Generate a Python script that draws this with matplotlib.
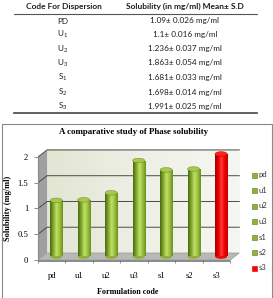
import numpy as np
import matplotlib as mpl
mpl.use('Agg')
import matplotlib.pyplot as plt
from matplotlib.patches import Polygon, Rectangle, Ellipse
from matplotlib.colors import LinearSegmentedColormap
from matplotlib.lines import Line2D

# table data
codes = ['PD', 'U$_1$', 'U$_2$', 'U$_3$', 'S$_1$', 'S$_2$', 'S$_3$']
means = [1.09, 1.1, 1.236, 1.863, 1.681, 1.698, 1.991]
sds = [0.026, 0.016, 0.037, 0.054, 0.033, 0.014, 0.025]

# chart data
labels = ['pd', 'u1', 'u2', 'u3', 's1', 's2', 's3']
colors = ['green', 'green', 'green', 'green', 'green', 'green', 'red']
yticks = [0, 0.5, 1, 1.5, 2]

W, H = 273, 298
plt.rcParams['mathtext.fontset'] = 'custom'
plt.rcParams['mathtext.rm'] = 'Lato'
plt.rcParams['mathtext.it'] = 'Lato'

fig = plt.figure(figsize=(W / 100, H / 100), dpi=100)
fig.patch.set_facecolor('white')

def fx(px):
    return px / W

def fy(py):
    return 1 - py / H

# ---- table ----
tfont = dict(family='Lato', color='#1e1e1e')
fig.text(fx(64), fy(6), 'Code For Dispersion', ha='center', va='center', fontsize=6.0, weight='bold', **tfont)
fig.text(fx(185), fy(6), 'Solubility (in mg/ml) Mean\u00b1 S.D', ha='center', va='center', fontsize=6.0, weight='bold', **tfont)
fig.add_artist(Line2D([fx(14), fx(257)], [fy(13.5), fy(13.5)], color='#555555', lw=0.8))
row_y = [21, 34.5, 49, 63, 77.5, 92, 106]
for c, m, s, ry in zip(codes, means, sds, row_y):
    fig.text(fx(63), fy(ry), c, ha='center', va='center', fontsize=5.9, **tfont)
    fig.text(fx(185), fy(ry), f'{m}\u00b1 {s} mg/ml', ha='center', va='center', fontsize=5.9, **tfont)
fig.add_artist(Line2D([fx(14), fx(257)], [fy(113), fy(113)], color='#444444', lw=1.2))

# chart frame
fig.add_artist(Rectangle((fx(2), fy(300)), fx(270), 176 / H, fill=False, ec='#888888', lw=0.8))

# ---- chart ----
ax = fig.add_axes([fx(38), fy(260), fx(206), 118.5 / H])
ax.patch.set_visible(False)
for sp in ['top', 'right', 'bottom']:
    ax.spines[sp].set_visible(False)
ax.spines['left'].set_bounds(0, 2)
ax.spines['left'].set_color('#8a8a8a')
ax.spines['left'].set_linewidth(0.8)

n = len(labels)
dx, dy = 0.33, 0.136
x0, x1 = -0.5, n - 0.5

# back wall gradient
wall_cm = LinearSegmentedColormap.from_list('wall', ['#e2e6d3', '#eef0e6', '#f6f7f2'])
ax.imshow(np.linspace(0, 1, 64)[None, :], cmap=wall_cm, aspect='auto',
          extent=(x0 + dx, x1 + dx, dy, 2 + dy), zorder=0)
# left wall
ax.add_patch(Polygon([(x0, 0), (x0 + dx, dy), (x0 + dx, 2 + dy), (x0, 2)], closed=True,
                     fc='#a0a0a0', ec='none', zorder=1))
# floor
ax.add_patch(Polygon([(x0, 0), (x1, 0), (x1 + dx, dy), (x0 + dx, dy)], closed=True,
                     fc='#b8b8b8', ec='#9a9a9a', lw=0.5, zorder=1))
ax.add_patch(Polygon([(x0, 0), (x1, 0), (x1, -0.03), (x0, -0.03)], closed=True,
                     fc='#8c8c8c', ec='none', zorder=1, clip_on=False))

# gridlines on walls
for t in yticks[1:]:
    ax.plot([x0, x0 + dx, x1 + dx], [t, t + dy, t + dy], color='#4a4a4a', lw=0.7, zorder=2)

# cylinders
green_cm = LinearSegmentedColormap.from_list('g', ['#4c6a10', '#7fa62a', '#c2df6a', '#9cc23e', '#6a8f1c'])
red_cm = LinearSegmentedColormap.from_list('r', ['#a80000', '#e00000', '#ff3a3a', '#f00000', '#c00000'])
cms = {'green': green_cm, 'red': red_cm}
caps = {'green': '#a6c94a', 'red': '#ff2020'}
bw = 0.44
ch = 0.09
grad = np.linspace(0, 1, 64)[None, :]
for i, (v, col) in enumerate(zip(means, colors)):
    cx = i + dx / 2
    b = dy / 2
    ax.add_patch(Ellipse((cx, b), bw, ch, fc=cms[col](0.3), ec='none', zorder=3))
    rect = Rectangle((cx - bw / 2, b), bw, v, fc='none', ec='none', zorder=3)
    ax.add_patch(rect)
    bim = ax.imshow(grad, cmap=cms[col], aspect='auto',
                    extent=(cx - bw / 2, cx + bw / 2, b, b + v), zorder=3)
    bim.set_clip_path(rect)
    ax.add_patch(Ellipse((cx, b + v), bw, ch, fc=caps[col], ec=cms[col](0.1), lw=0.3, zorder=4))

ax.set_xlim(-0.5, 7.0)
ax.set_ylim(0, 2.3)

ax.set_xticks(range(n))
ax.set_xticklabels(labels, family='Liberation Serif', fontsize=6.2)
ax.set_xticks(np.arange(n + 1) - 0.5, minor=True)
ax.tick_params(axis='x', which='major', length=0, pad=9)
ax.tick_params(axis='x', which='minor', length=2.5, color='#777777', width=0.6)
ax.set_yticks(yticks)
ax.set_yticklabels(['0', '0.5', '1', '1.5', '2'], family='Liberation Serif', fontsize=6.2)
ax.tick_params(axis='y', length=3, color='#777777', width=0.6, pad=4)

fig.text(fx(134), fy(132), 'A comparative study of Phase solubility', ha='center', va='center',
         family='Liberation Serif', weight='bold', fontsize=6.4)
fig.text(fx(8), fy(208), 'Solubility (mg/ml)', ha='center', va='center', rotation=90,
         family='Liberation Serif', weight='bold', fontsize=6.0)
fig.text(fx(128), fy(292), 'Formulation code', ha='center', va='center',
         family='Liberation Serif', weight='bold', fontsize=5.9)

# legend
for k, (lab, col) in enumerate(zip(labels, colors)):
    ly = 175 + 15.5 * k
    fc = '#8db33a' if col == 'green' else '#ff0000'
    ec = '#5a7a1a' if col == 'green' else '#cc0000'
    fig.add_artist(Rectangle((fx(252), fy(ly + 2.5)), fx(5), 5 / H, fc=fc, ec=ec, lw=0.4))
    fig.text(fx(258.5), fy(ly), lab, ha='left', va='center', family='Lato', fontsize=5.6, color='#333333')

fig.savefig('out.png', dpi=100)
